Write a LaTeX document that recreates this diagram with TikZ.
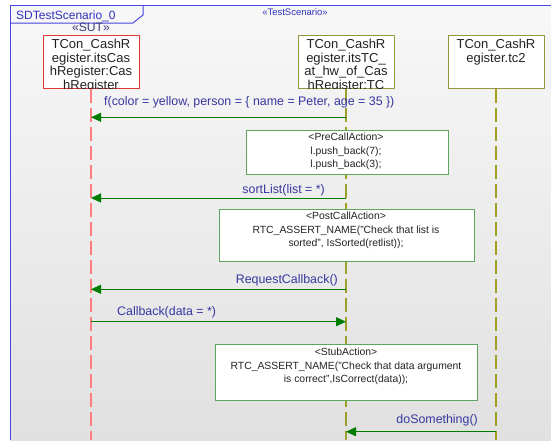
\documentclass[tikz,border=0pt]{standalone}
\usepackage{fontspec}
\setmainfont{Liberation Sans}
\usetikzlibrary{arrows.meta}
\definecolor{frameblue}{RGB}{70,70,225}
\definecolor{titleblue}{RGB}{50,50,190}
\definecolor{lblblue}{RGB}{55,55,160}
\definecolor{sutcol}{RGB}{60,60,120}
\definecolor{msggreen}{RGB}{0,125,0}
\definecolor{boxgreen}{RGB}{95,165,95}
\definecolor{sutred}{RGB}{225,55,55}
\definecolor{lifered}{RGB}{255,125,125}
\definecolor{oliveline}{RGB}{160,160,40}
\definecolor{olivebox}{RGB}{150,150,60}
\definecolor{txtdark}{RGB}{35,35,35}
\tikzset{
  headbox/.style={draw, fill=white, line width=1pt, minimum width=96pt, minimum height=53pt, inner sep=0pt},
  headtext/.style={anchor=north, align=center, inner sep=0pt, text=txtdark, font=\fontsize{13}{13.5}\selectfont},
  lifeline/.style={line width=1.4pt, dash pattern=on 14pt off 5pt},
  msg/.style={draw=msggreen, line width=1pt, -{Triangle[length=10pt,width=9pt]}, fill=msggreen},
  msglabel/.style={text=lblblue, inner sep=0pt, font=\fontsize{12.4}{14}\selectfont},
  actbox/.style={draw=boxgreen, fill=white, line width=1pt, inner sep=0pt},
  acttext/.style={align=center, inner sep=0pt, text=txtdark, font=\fontsize{10.4}{13.5}\selectfont}
}
\begin{document}
\begin{tikzpicture}[x=1pt,y=-1pt]
\useasboundingbox (0,0) rectangle (551,440);
\fill[white] (0,0) rectangle (551,440);
\shade[top color=white!97!black, bottom color=white!88!black] (10,5) rectangle (551,440);
% frame
\draw[frameblue, line width=1pt] (551,5) -- (10,5) -- (10,440);
\draw[frameblue, line width=1pt] (10,23) -- (133,23) -- (143,15) -- (143,5);
\node[text=titleblue, inner sep=0pt, font=\fontsize{12}{14}\selectfont, anchor=base west] (title) at (16,19) {SDTestScenario\_0};
\node[text=titleblue, inner sep=0pt, font=\fontsize{9.5}{11}\selectfont] (stereo) at (295,12) {«TestScenario»};
% heads
\node[headbox, draw=sutred] (h1) at (91,61.5) {};
\node[headbox, draw=olivebox] (h2) at (346,61.5) {};
\node[headbox, draw=olivebox] (h3) at (496,61.5) {};
\node[text=sutcol, inner sep=0pt, font=\fontsize{12.2}{14}\selectfont] (sut) at (91,27) {«SUT»};
\begin{scope}
\clip (h1.north west) rectangle (h1.south east);
\node[headtext] (t1) at (91,39.3) {TCon\_CashR\\egister.itsCas\\hRegister:Cas\\hRegister};
\end{scope}
\begin{scope}
\clip (h2.north west) rectangle (h2.south east);
\node[headtext] (t2) at (346,39.3) {TCon\_CashR\\egister.itsTC\_\\at\_hw\_of\_Cas\\hRegister:TC};
\end{scope}
\node[headtext] (t3) at (496,39.3) {TCon\_CashR\\egister.tc2};
% lifelines
\coordinate (e1) at (91,440);
\coordinate (e2) at (346,440);
\coordinate (e3) at (496,440);
\draw[lifeline, lifered] (h1.south) -- (e1);
\draw[lifeline, oliveline] (h2.south) -- (e2);
\draw[lifeline, oliveline] (h3.south) -- (e3);
% message end points
\coordinate (m1a) at (346,117.3); \coordinate (m1b) at (91,117.3);
\coordinate (m2a) at (346,198); \coordinate (m2b) at (91,198);
\coordinate (m3a) at (346,289.3); \coordinate (m3b) at (91,289.3);
\coordinate (m4a) at (91,321.7); \coordinate (m4b) at (346,321.7);
\coordinate (m5a) at (496,431.7); \coordinate (m5b) at (346,431.7);
% messages
\draw[msg] (m1a) -- (m1b);
\node[msglabel, anchor=base west] (l1) at (104,105.5) {f(color = yellow, person = \{ name = Peter, age = 35 \})};
\draw[msg] (m2a) -- (m2b);
\node[msglabel, anchor=base east] (l2) at (325,193.5) {sortList(list = *)};
\draw[msg] (m3a) -- (m3b);
\node[msglabel, anchor=base east] (l3) at (338,283) {RequestCallback()};
\draw[msg] (m4a) -- (m4b);
\node[msglabel, anchor=base west] (l4) at (117,315) {Callback(data = *)};
\draw[msg] (m5a) -- (m5b);
\node[msglabel, anchor=base east] (l5) at (478,423.5) {doSomething()};
% action boxes
\node[actbox, minimum width=202pt, minimum height=44pt] (pre) at (347,152) {};
\node[acttext] (pret) at (346,151.7) {<PreCallAction>\\l.push\_back(7);\\l.push\_back(3);};
\node[actbox, minimum width=255pt, minimum height=52pt] (post) at (346.5,235) {};
\node[acttext] (postt) at (346,230.7) {<PostCallAction>\\RTC\_ASSERT\_NAME("Check that list is\\sorted", IsSorted(retlist));};
\node[actbox, minimum width=262pt, minimum height=56pt] (stub) at (346,372) {};
\node[acttext] (stubt) at (346,366.5) {<StubAction>\\RTC\_ASSERT\_NAME("Check that data argument\\is correct",IsCorrect(data));};
\end{tikzpicture}
\end{document}
